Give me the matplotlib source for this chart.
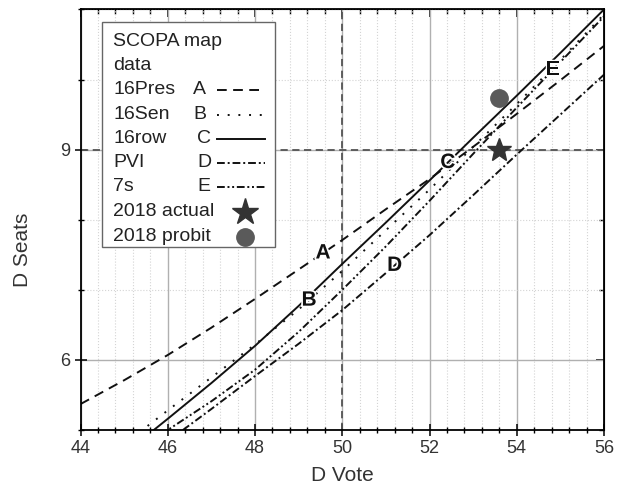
import matplotlib.pyplot as plt
import matplotlib.patheffects as pe
from matplotlib.patches import Rectangle
from matplotlib.ticker import MultipleLocator
import numpy as np

plt.rcParams['font.family'] = ['Liberation Sans', 'DejaVu Sans']

# data
vote = [44, 45, 46, 47, 48, 49, 50, 51, 52, 53, 54, 55, 56]
seats_pres = [5.37, 5.71, 6.07, 6.46, 6.87, 7.29, 7.71, 8.15, 8.58, 9.04, 9.51, 9.99, 10.48]
seats_sen = [4.30, 4.80, 5.28, 5.75, 6.22, 6.72, 7.27, 7.85, 8.43, 9.04, 9.65, 10.28, 10.93]
seats_row = [4.16, 4.66, 5.16, 5.67, 6.20, 6.77, 7.37, 7.96, 8.56, 9.17, 9.77, 10.38, 11.00]
seats_pvi = [3.90, 4.34, 4.84, 5.30, 5.77, 6.23, 6.71, 7.24, 7.78, 8.35, 8.93, 9.50, 10.07]
seats_7s = [4.10, 4.58, 5.00, 5.41, 5.86, 6.40, 7.00, 7.62, 8.27, 8.94, 9.60, 10.25, 10.90]

names = ['16Pres', '16Sen', '16row', 'PVI', '7s']
letters = ['A', 'B', 'C', 'D', 'E']
letter_x = [49.56, 49.24, 52.42, 51.2, 54.83]

actual_2018 = (53.6, 9.0)
probit_2018 = (53.6, 9.74)

series = [seats_pres, seats_sen, seats_row, seats_pvi, seats_7s]
dashes = [(5, 3.3), (1, 4.5), (), (4, 1.5, 1, 1.5), (4, 1.4, 1, 1.4, 1, 1.4)]

fig = plt.figure(figsize=(6.17, 4.95), dpi=100)
ax = fig.add_axes([0.1305, 0.1313, 0.8485, 0.8497])
ax.set_xlim(44, 56)
ax.set_ylim(5, 11)

# grid
ax.xaxis.set_major_locator(MultipleLocator(2))
ax.xaxis.set_minor_locator(MultipleLocator(0.4))
ax.yaxis.set_major_locator(MultipleLocator(3))
ax.yaxis.set_minor_locator(MultipleLocator(1))
ax.grid(which='major', color='#b0b0b0', lw=1.0, ls='-')
ax.grid(which='minor', color='#d4d4d4', lw=0.8, ls=':')
ax.set_axisbelow(True)
ax.axvline(50, color='#555555', lw=1.3, ls=(0, (4, 2.5)))
ax.axhline(9, color='#555555', lw=1.3, ls=(0, (4, 2.5)))

handles = []
for vals, d in zip(series, dashes):
    if d:
        h, = ax.plot(vote, vals, color='#111111', lw=1.4, dashes=d)
    else:
        h, = ax.plot(vote, vals, color='#111111', lw=1.4)
    handles.append(h)

for vals, lt, lx in zip(series, letters, letter_x):
    ly = np.interp(lx, vote, vals)
    ax.text(lx, ly, lt, ha='center', va='center', fontsize=15, fontweight='bold',
            color='#111111',
            path_effects=[pe.withStroke(linewidth=2.5, foreground='white')])

ax.plot([actual_2018[0]], [actual_2018[1]], marker='*', ms=18,
        color='#333333', ls='none')
ax.plot([probit_2018[0]], [probit_2018[1]], marker='o', ms=12.5,
        color='#5a5a5a', ls='none')

# ticks
ax.tick_params(which='major', direction='inout', length=8, width=1.1,
               labelsize=13, labelcolor='#333333')
ax.tick_params(which='minor', direction='inout', length=5, width=1.0)
for s in ax.spines.values():
    s.set_linewidth(1.3)

top = ax.secondary_xaxis('top')
top.xaxis.set_major_locator(MultipleLocator(2))
top.xaxis.set_minor_locator(MultipleLocator(0.4))
top.tick_params(which='major', direction='in', length=6, width=1.1, labeltop=False)
top.tick_params(which='minor', direction='in', length=3.5, width=1.0)
right = ax.secondary_yaxis('right')
right.yaxis.set_major_locator(MultipleLocator(3))
right.yaxis.set_minor_locator(MultipleLocator(1))
right.tick_params(which='major', direction='in', length=6, width=1.1, labelright=False)
right.tick_params(which='minor', direction='in', length=3.5, width=1.0)

ax.set_xlabel('D Vote', fontsize=15, color='#333333', labelpad=6)
ax.set_ylabel('D Seats', fontsize=15, color='#333333')


# legend box, laid out in axes fraction
def fx(px):
    return (px - 80.5) / 523.5


def fy(py):
    return (430 - py) / 420.5


ax.yaxis.set_label_coords(fx(32), fy(250))

tr = ax.transAxes
ax.add_patch(Rectangle((fx(102), fy(247)), fx(275) - fx(102), fy(22) - fy(247),
                       transform=tr, facecolor='white', edgecolor='#666666',
                       lw=1.0, zorder=5))
row_y = [42, 66, 90, 115, 139, 163, 187, 212, 237]
lfs = 14
ax.text(fx(113), fy(row_y[0]), 'SCOPA map', transform=tr, fontsize=lfs,
        va='center', color='#222222', zorder=6)
ax.text(fx(113), fy(row_y[1]), 'data', transform=tr, fontsize=lfs,
        va='center', color='#222222', zorder=6)
letter_px = [193, 193, 197, 197, 197]
for i, (nm, lt, h) in enumerate(zip(names, letters, handles)):
    yy = fy(row_y[i + 2])
    ax.text(fx(113), yy, nm, transform=tr, fontsize=lfs, va='center',
            color='#222222', zorder=6)
    ax.text(fx(letter_px[i]), yy, lt, transform=tr, fontsize=lfs, va='center',
            color='#222222', zorder=6)
    ax.plot([fx(217), fx(265)], [yy, yy], transform=tr, color='#111111', lw=1.4,
            ls=h.get_linestyle(), dashes=dashes[i] if dashes[i] else (None, None),
            zorder=6, clip_on=False)
ax.text(fx(113), fy(row_y[7]), '2018 actual', transform=tr, fontsize=lfs,
        va='center', color='#222222', zorder=6)
ax.plot([fx(245)], [fy(row_y[7])], transform=tr, marker='*', ms=20,
        color='#333333', ls='none', zorder=6)
ax.text(fx(113), fy(row_y[8]), '2018 probit', transform=tr, fontsize=lfs,
        va='center', color='#222222', zorder=6)
ax.plot([fx(245)], [fy(row_y[8])], transform=tr, marker='o', ms=12.5,
        color='#5a5a5a', ls='none', zorder=6)

plt.savefig('out.png', dpi=100)
